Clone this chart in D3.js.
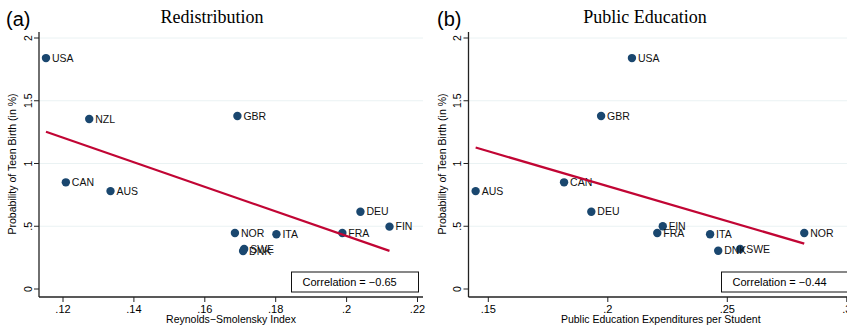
<!DOCTYPE html>
<html>
<head>
<meta charset="utf-8">
<script src="https://cdn.jsdelivr.net/npm/d3@7"></script>
<style>
  body { margin: 0; background: #fff; }
  svg { display: block; }
  text { font-family: "Liberation Sans", Arial, sans-serif; }
</style>
</head>
<body>
<div id="chart"></div>
<script>
// teen birth probability (in %), same for both panels
const countriesA = ['USA', 'NZL', 'GBR', 'CAN', 'AUS', 'NOR', 'ITA', 'DEU', 'FRA', 'FIN', 'SWE', 'DNK'];
const redistX = [0.1152, 0.1274, 0.1692, 0.1208, 0.1334, 0.1685, 0.1802, 0.2039, 0.1988, 0.2121, 0.1711, 0.1708];
const teenBirthA = [1.84, 1.355, 1.378, 0.85, 0.78, 0.446, 0.436, 0.616, 0.446, 0.497, 0.319, 0.303];

const countriesB = ['USA', 'GBR', 'AUS', 'CAN', 'DEU', 'FIN', 'FRA', 'ITA', 'DNK', 'SWE', 'NOR'];
const educX = [0.2101, 0.1972, 0.1447, 0.1817, 0.1931, 0.2230, 0.2207, 0.2428, 0.2462, 0.2554, 0.2822];
const teenBirthB = [1.84, 1.378, 0.78, 0.85, 0.616, 0.50, 0.446, 0.436, 0.305, 0.319, 0.446];

const yTicks = [0, 0.5, 1, 1.5, 2];
const xTicksA = [0.12, 0.14, 0.16, 0.18, 0.2, 0.22];
const xTicksB = [0.15, 0.2, 0.25, 0.3];
const correlations = ['Correlation = \u22120.65', 'Correlation = \u22120.44'];

const W = 847, H = 331;
const navy = '#1a476f', red = '#c10534', grid = '#eaf2f3';

const svg = d3.select('#chart').append('svg')
    .attr('width', W).attr('height', H);

function fmt(d) {
    // stata style: .12, .5, 1, 1.5
    var s = d3.format('~g')(d);
    return s.replace(/^0\./, '.');
}

function panel(opt) {
    const g = svg.append('g');
    const x = d3.scaleLinear().domain(opt.xDomain).range(opt.xRange);
    const y = d3.scaleLinear().domain([0, 2]).range([289, 38]);
    const left = opt.xRange0, right = opt.xRight, top = 32, bottom = 297;

    // gridlines
    g.selectAll('.grid').data(yTicks.slice(1)).enter().append('line')
        .attr('x1', left).attr('x2', right)
        .attr('y1', d => y(d)).attr('y2', d => y(d))
        .attr('stroke', grid).attr('stroke-width', 1);

    // y axis
    g.append('line').attr('x1', left).attr('x2', left).attr('y1', top).attr('y2', bottom)
        .attr('stroke', '#222').attr('stroke-width', 1.3);
    g.selectAll('.ytick').data(yTicks).enter().append('line')
        .attr('x1', left - 5).attr('x2', left)
        .attr('y1', d => y(d)).attr('y2', d => y(d))
        .attr('stroke', '#222');
    g.selectAll('.ylab').data(yTicks).enter().append('text')
        .attr('transform', d => 'translate(' + (left - 7.5) + ',' + y(d) + ') rotate(-90)')
        .attr('text-anchor', 'middle')
        .style('font-size', '10.5px')
        .text(fmt);
    g.append('text')
        .attr('transform', 'translate(' + (left - 23) + ',' + 164 + ') rotate(-90)')
        .attr('text-anchor', 'middle')
        .style('font-size', '10.5px')
        .text('Probability of Teen Birth (in %)');

    // x axis
    g.append('line').attr('x1', left).attr('x2', right).attr('y1', bottom).attr('y2', bottom)
        .attr('stroke', '#222').attr('stroke-width', 1.3);
    g.selectAll('.xtick').data(opt.xTicks).enter().append('line')
        .attr('x1', d => x(d)).attr('x2', d => x(d))
        .attr('y1', bottom).attr('y2', bottom + 5)
        .attr('stroke', '#222');
    g.selectAll('.xlab').data(opt.xTicks).enter().append('text')
        .attr('x', d => x(d)).attr('y', bottom + 16)
        .attr('text-anchor', 'middle')
        .style('font-size', '11px')
        .text(fmt);
    g.append('text')
        .attr('x', (left + opt.xTitleRight) / 2).attr('y', 323)
        .attr('text-anchor', 'middle')
        .style('font-size', '10.5px')
        .text(opt.xTitle);

    // titles
    g.append('text')
        .attr('x', opt.titleX).attr('y', 23)
        .attr('text-anchor', 'middle')
        .style('font-family', '"Liberation Serif", "Times New Roman", serif')
        .style('font-size', '18px')
        .text(opt.title);
    g.append('text')
        .attr('x', opt.tagX).attr('y', 26)
        .style('font-size', '20px')
        .text(opt.tag);

    // points
    const pts = opt.xs.map((d, i) => ({ x: d, y: opt.ys[i], name: opt.names[i] }));
    g.selectAll('.dot').data(pts).enter().append('circle')
        .attr('cx', d => x(d.x)).attr('cy', d => y(d.y))
        .attr('r', 4.2).attr('fill', navy);
    g.selectAll('.lab').data(pts).enter().append('text')
        .attr('x', d => x(d.x) + 6).attr('y', d => y(d.y))
        .attr('dy', '0.35em')
        .style('font-size', '10.5px')
        .attr('fill', '#111')
        .text(d => d.name);

    // linear fit
    const mx = d3.mean(opt.xs), my = d3.mean(opt.ys);
    let sxy = 0, sxx = 0;
    opt.xs.forEach((d, i) => { sxy += (d - mx) * (opt.ys[i] - my); sxx += (d - mx) * (d - mx); });
    const b = sxy / sxx, a = my - b * mx;
    const ext = d3.extent(opt.xs);
    g.append('path')
        .datum(ext)
        .attr('fill', 'none').attr('stroke', red).attr('stroke-width', 2.2)
        .attr('d', d3.line().x(d => x(d)).y(d => y(a + b * d)));

    // correlation box
    g.append('rect')
        .attr('x', opt.boxX).attr('y', 272).attr('width', 127).attr('height', 20)
        .attr('fill', '#fff').attr('stroke', '#111').attr('stroke-width', 1);
    g.append('text')
        .attr('x', opt.boxX + 11).attr('y', 282).attr('dy', '0.35em')
        .style('font-size', '11px')
        .text(opt.corr);
}

panel({
    names: countriesA, xs: redistX, ys: teenBirthA,
    xDomain: [0.12, 0.22], xRange: [63, 417.5], xRange0: 39, xRight: 423, xTitleRight: 423,
    xTicks: xTicksA, xTitle: 'Reynolds\u2212Smolensky Index',
    title: 'Redistribution', titleX: 212, tag: '(a)', tagX: 6,
    boxX: 291.5, corr: correlations[0]
});

panel({
    names: countriesB, xs: educX, ys: teenBirthB,
    xDomain: [0.15, 0.3], xRange: [488.3, 846.8], xRange0: 468.5, xRight: 853, xTitleRight: 853,
    xTicks: xTicksB, xTitle: 'Public Education Expenditures per Student',
    title: 'Public Education', titleX: 645, tag: '(b)', tagX: 437,
    boxX: 721.5, corr: correlations[1]
});
</script>
</body>
</html>
